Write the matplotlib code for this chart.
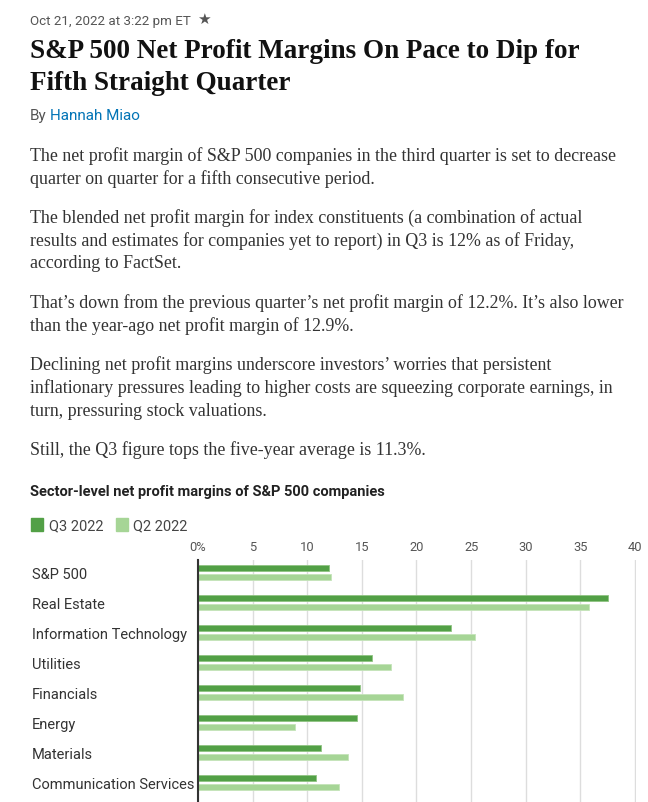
import matplotlib
matplotlib.use('Agg')
import matplotlib.pyplot as plt
import matplotlib.transforms as mtransforms

# chart data (net profit margin, %)
sectors = ['S&P 500', 'Real Estate', 'Information Technology', 'Utilities',
           'Financials', 'Energy', 'Materials', 'Communication Services']
q3_2022 = [12.0, 37.5, 23.2, 15.9, 14.8, 14.6, 11.3, 10.8]
q2_2022 = [12.2, 35.8, 25.4, 17.7, 18.8, 8.9, 13.7, 12.9]
x_ticks = [0, 5, 10, 15, 20, 25, 30, 35, 40]
x_tick_labels = ['0%', '5', '10', '15', '20', '25', '30', '35', '40']

dateline = 'Oct 21, 2022 at 3:22 pm ET'
headline = ['S&P 500 Net Profit Margins On Pace to Dip for', 'Fifth Straight Quarter']
author = 'Hannah Miao'
paragraphs = [
    ['The net profit margin of S&P 500 companies in the third quarter is set to decrease',
     'quarter on quarter for a fifth consecutive period.'],
    ['The blended net profit margin for index constituents (a combination of actual',
     'results and estimates for companies yet to report) in Q3 is 12% as of Friday,',
     'according to FactSet.'],
    ['That\u2019s down from the previous quarter\u2019s net profit margin of 12.2%. It\u2019s also lower',
     'than the year-ago net profit margin of 12.9%.'],
    ['Declining net profit margins underscore investors\u2019 worries that persistent',
     'inflationary pressures leading to higher costs are squeezing corporate earnings, in',
     'turn, pressuring stock valuations.'],
    ['Still, the Q3 figure tops the five-year average is 11.3%.'],
]
chart_title = 'Sector-level net profit margins of S&P 500 companies'

W, H = 648, 803
Q3_COLOR = '#52a046'
Q2_COLOR = '#a6d596'
SERIF = ['Liberation Serif', 'DejaVu Serif']
SANS = ['Roboto', 'DejaVu Sans']

fig = plt.figure(figsize=(W / 100, H / 100), dpi=100)


def px(x, y):
    # pixel position from top-left -> figure fraction
    return x / W, 1 - y / H


# header
fig.text(*px(30, 21), dateline, family=SANS, fontsize=9.6, color='#555555', va='center')
fig.text(*px(197, 20), '\u2605', family=SANS, fontsize=11, color='#555555', va='center')
for i, line in enumerate(headline):
    fig.text(*px(30, 52 + 31 * i), line, family=SERIF, fontsize=19.5, weight='bold',
             color='#111111', va='center')
fig.text(*px(30, 116), 'By', family=SANS, fontsize=11, color='#555555', va='center')
fig.text(*px(50, 116), author, family=SANS, fontsize=11, color='#0274b6', va='center')

# body text
y = 156
for para in paragraphs:
    for line in para:
        fig.text(*px(30, y), line, family=SERIF, fontsize=12.9, color='#333333', va='center')
        y += 23
    y += 16

# chart title + legend
fig.text(*px(30, 492), chart_title, family=SANS, fontsize=10.5, weight='bold',
         color='#222222', va='center')
fig.patches.append(plt.Rectangle(px(31, 532), 12 / W, 13 / H, transform=fig.transFigure,
                                 color=Q3_COLOR, figure=fig))
fig.text(*px(49, 526), 'Q3 2022', family=SANS, fontsize=10.5, color='#444444', va='center')
fig.patches.append(plt.Rectangle(px(116, 532), 12 / W, 13 / H, transform=fig.transFigure,
                                 color=Q2_COLOR, figure=fig))
fig.text(*px(133, 526), 'Q2 2022', family=SANS, fontsize=10.5, color='#444444', va='center')

# bar chart
ax_top = 561
ax = fig.add_axes([198 / W, 0, (636 - 198) / W, (H - ax_top) / H])
n = len(sectors)
rows = list(range(n))
bar_h = 0.2
ax.barh([r - 0.15 for r in rows], q3_2022, height=bar_h, color=Q3_COLOR,
        edgecolor='#8fc482', linewidth=0.6, zorder=3)
ax.barh([r + 0.15 for r in rows], q2_2022, height=bar_h, color=Q2_COLOR,
        edgecolor='#c4e4b9', linewidth=0.6, zorder=3)

# one row = 30 px; first row centred 12 px below the axes top
ax.set_xlim(0, 40.1)
ax.set_ylim((H - 573) / 30, -(573 - ax_top) / 30)
ax.set_xticks(x_ticks)
ax.set_xticklabels(x_tick_labels, family=SANS, fontsize=9.3, color='#555555')
ax.xaxis.tick_top()
ax.tick_params(axis='x', length=0, pad=5)
ax.set_yticks([])
ax.grid(axis='x', color='#dddddd', linewidth=1, zorder=0)
for side in ['top', 'right', 'bottom']:
    ax.spines[side].set_visible(False)
ax.spines['left'].set_color('#333333')
ax.spines['left'].set_linewidth(1.5)
ax.spines['left'].set_zorder(4)

lab_tr = mtransforms.blended_transform_factory(fig.transFigure, ax.transData)
for r, name in zip(rows, sectors):
    ax.text(32 / W, r + 0.07, name, transform=lab_tr, family=SANS, fontsize=10.5,
            color='#333333', va='center', ha='left')

fig.savefig('out.png', dpi=100)
